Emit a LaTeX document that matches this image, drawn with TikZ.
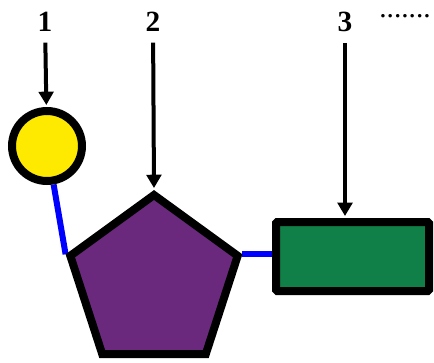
\documentclass[tikz,border=0pt]{standalone}
\usepackage{fontspec}
\setmainfont{Liberation Serif}
\usetikzlibrary{arrows.meta,backgrounds,shapes.geometric}

\definecolor{galYellow}{RGB}{254,234,0}
\definecolor{hexPurple}{RGB}{106,41,125}
\definecolor{hexGreen}{RGB}{16,128,72}

\begin{document}
\begin{tikzpicture}
    [x=0.75pt,y=0.75pt,
      sugar/.style={draw=black,line width=6pt,inner sep=0pt},
      num/.style={inner sep=0pt,font=\fontsize{22}{24}\selectfont\bfseries},
      link/.style={draw=blue,line width=4.5pt},
      pointer/.style={draw=black,line width=3pt,
        -{Triangle[length=10pt,width=11pt]},shorten <=8pt,shorten >=1.5pt}
    ]
    \useasboundingbox (0,0) rectangle (434,362);

    % the three residues
    \node [sugar,circle,fill=galYellow,minimum size=52.5pt] (sugar1) at (47,216) {};
    \node [sugar,regular polygon,regular polygon sides=5,fill=hexPurple,
      minimum size=132pt] (sugar2) at (154,79) {};
    \node [sugar,rectangle,rounded corners=1pt,fill=hexGreen,
      minimum width=114.75pt,minimum height=51.75pt] (box) at (352.5,105.5) {};

    \begin{pgfonlayer}{background}
      \draw [link] (sugar1) -- (sugar2.corner 2);
      \draw [link] (sugar2.corner 5) -- (sugar2.corner 5 -| box.west);
    \end{pgfonlayer}

    % numbered labels
    \node [num] (lab1) at (45,340) {1};
    \node [num] (lab2) at (153,340) {2};
    \node [num] (lab3) at (345,340) {3};
    \node [inner sep=0pt,font=\fontsize{22}{24}\selectfont] (dots) at (405,346) {.......};

    \draw [pointer] (lab1) -- (sugar1);
    \draw [pointer] (lab2) -- (sugar2.corner 1);
    \draw [pointer] (lab3) -- (lab3 |- box.north);
  \end{tikzpicture}
\end{document}
